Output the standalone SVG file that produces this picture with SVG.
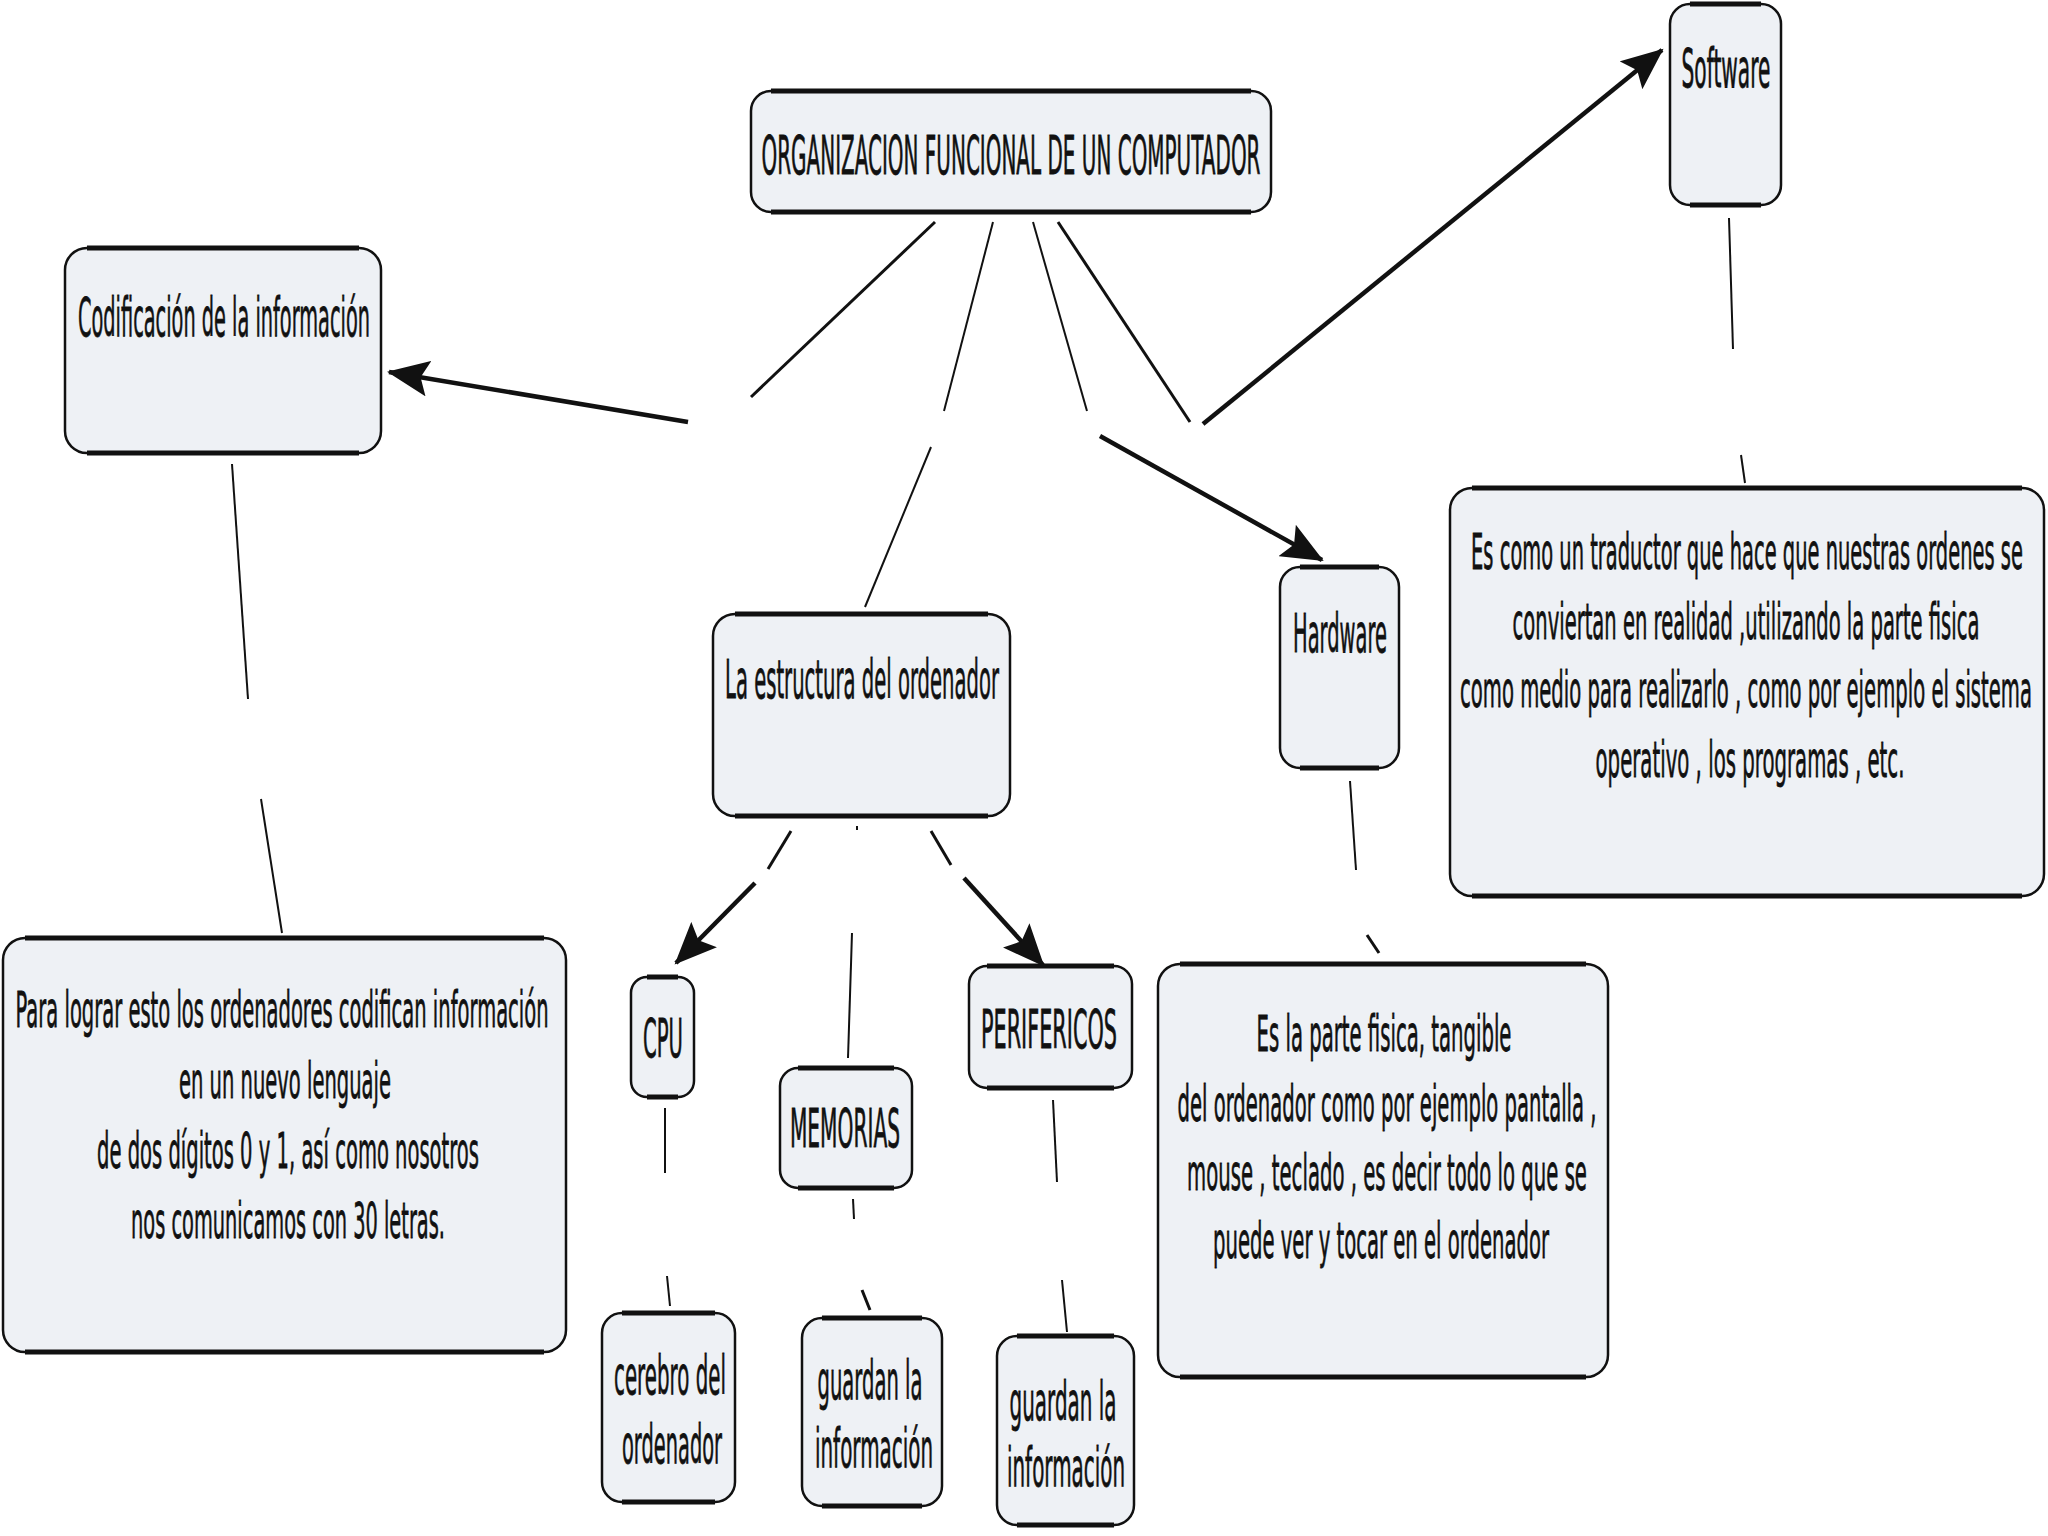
<svg xmlns="http://www.w3.org/2000/svg" width="2048" height="1536" viewBox="0 0 2048 1536">
<style>
.box{fill:#eef1f5;stroke:#111;stroke-width:2.5}
.edge{stroke:#111;stroke-width:5;fill:none}
text{font-family:"DejaVu Sans","Liberation Sans",sans-serif;fill:#111;stroke:#111;stroke-width:0.8;text-anchor:middle;font-size:54px}
.d{font-size:50px}
.thin{stroke:#111;stroke-width:2;fill:none}
.mid{stroke:#111;stroke-width:3;fill:none}
.arr{stroke:#111;stroke-width:4.5;fill:none;marker-end:url(#ah)}
</style>
<defs>
<marker id="ah" markerUnits="userSpaceOnUse" markerWidth="44" markerHeight="36" refX="40" refY="18" orient="auto">
<path d="M0,0 L42,18 L0,36 L8,18 Z" fill="#111"/>
</marker>
</defs>
<rect width="2048" height="1536" fill="#ffffff"/>
<g id="connectors">
<line class="mid" x1="935" y1="222" x2="751" y2="397"/>
<line class="arr" x1="688" y1="422" x2="389" y2="372"/>
<line class="thin" x1="993" y1="222" x2="944" y2="411"/>
<line class="thin" x1="931" y1="447" x2="865" y2="607"/>
<line class="thin" x1="1033" y1="222" x2="1087" y2="411"/>
<line class="arr" x1="1100" y1="436" x2="1322" y2="560"/>
<line class="mid" x1="1058" y1="222" x2="1190" y2="422"/>
<line class="arr" x1="1203" y1="424" x2="1662" y2="50"/>
<line class="thin" x1="1729" y1="218" x2="1733" y2="349"/>
<line class="thin" x1="1741" y1="455" x2="1745" y2="483"/>
<line class="thin" x1="232" y1="464" x2="248" y2="699"/>
<line class="thin" x1="261" y1="799" x2="282" y2="933"/>
<line class="mid" x1="791" y1="831" x2="768" y2="869"/>
<line class="arr" x1="755" y1="883" x2="676" y2="963"/>
<line class="thin" x1="857" y1="826" x2="857" y2="830"/>
<line class="thin" x1="852" y1="933" x2="848" y2="1058"/>
<line class="mid" x1="931" y1="831" x2="951" y2="865"/>
<line class="arr" x1="964" y1="878" x2="1043" y2="965"/>
<line class="thin" x1="1350" y1="781" x2="1356" y2="870"/>
<line class="mid" x1="1367" y1="935" x2="1379" y2="953"/>
<line class="thin" x1="665" y1="1108" x2="665" y2="1173"/>
<line class="thin" x1="667" y1="1276" x2="670" y2="1306"/>
<line class="thin" x1="853" y1="1199" x2="854" y2="1219"/>
<line class="mid" x1="862" y1="1290" x2="870" y2="1310"/>
<line class="thin" x1="1053" y1="1100" x2="1057" y2="1182"/>
<line class="thin" x1="1062" y1="1280" x2="1067" y2="1332"/>
</g>
<g id="root">
<rect class="box" x="751" y="91" width="520" height="121" rx="20"/>
<path class="edge" d="M771,91H1251M771,212H1251"/>
<text transform="matrix(0.36 0 0 1 1011 174)" font-size="58" textLength="1386" lengthAdjust="spacingAndGlyphs">ORGANIZACION FUNCIONAL DE UN COMPUTADOR</text>
</g>
<g id="codificacion">
<rect class="box" x="65" y="248" width="316" height="205" rx="22"/>
<path class="edge" d="M87,248H359M87,453H359"/>
<text transform="matrix(0.36 0 0 1 224 336)" textLength="811" lengthAdjust="spacingAndGlyphs">Codificación de la información</text>
</g>
<g id="software">
<rect class="box" x="1670" y="4" width="111" height="201" rx="20"/>
<path class="edge" d="M1690,4H1761M1690,205H1761"/>
<text transform="matrix(0.36 0 0 1 1726 87)" textLength="247" lengthAdjust="spacingAndGlyphs">Software</text>
</g>
<g id="software-desc">
<rect class="box" x="1450" y="488" width="594" height="408" rx="22"/>
<path class="edge" d="M1472,488H2022M1472,896H2022"/>
<text class="d" transform="matrix(0.36 0 0 1 1747 569)" textLength="1533" lengthAdjust="spacingAndGlyphs">Es como un traductor que hace que nuestras ordenes se</text>
<text class="d" transform="matrix(0.36 0 0 1 1746 639)" textLength="1297" lengthAdjust="spacingAndGlyphs">conviertan en realidad ,utilizando la parte fisica</text>
<text class="d" transform="matrix(0.36 0 0 1 1746 707)" textLength="1589" lengthAdjust="spacingAndGlyphs">como medio para realizarlo , como por ejemplo el sistema</text>
<text class="d" transform="matrix(0.36 0 0 1 1750 777)" textLength="858" lengthAdjust="spacingAndGlyphs">operativo , los programas , etc.</text>
</g>
<g id="hardware">
<rect class="box" x="1280" y="567" width="119" height="201" rx="20"/>
<path class="edge" d="M1300,567H1379M1300,768H1379"/>
<text transform="matrix(0.36 0 0 1 1340 652)" textLength="261" lengthAdjust="spacingAndGlyphs">Hardware</text>
</g>
<g id="hardware-desc">
<rect class="box" x="1158" y="964" width="450" height="413" rx="22"/>
<path class="edge" d="M1180,964H1586M1180,1377H1586"/>
<text class="d" transform="matrix(0.36 0 0 1 1384 1051)" textLength="708" lengthAdjust="spacingAndGlyphs">Es la parte fisica, tangible</text>
<text class="d" transform="matrix(0.36 0 0 1 1387 1121)" textLength="1164" lengthAdjust="spacingAndGlyphs">del ordenador como por ejemplo pantalla ,</text>
<text class="d" transform="matrix(0.36 0 0 1 1387 1190)" textLength="1111" lengthAdjust="spacingAndGlyphs">mouse , teclado , es decir todo lo que se</text>
<text class="d" transform="matrix(0.36 0 0 1 1381 1258)" textLength="933" lengthAdjust="spacingAndGlyphs">puede ver y tocar en el ordenador</text>
</g>
<g id="estructura">
<rect class="box" x="713" y="614" width="297" height="202" rx="22"/>
<path class="edge" d="M735,614H988M735,816H988"/>
<text transform="matrix(0.36 0 0 1 862 698)" textLength="761" lengthAdjust="spacingAndGlyphs">La estructura del ordenador</text>
</g>
<g id="cpu">
<rect class="box" x="631" y="977" width="63" height="120" rx="16"/>
<path class="edge" d="M647,977H678M647,1097H678"/>
<text transform="matrix(0.36 0 0 1 663 1057)" textLength="111" lengthAdjust="spacingAndGlyphs">CPU</text>
</g>
<g id="memorias">
<rect class="box" x="780" y="1068" width="132" height="120" rx="18"/>
<path class="edge" d="M798,1068H894M798,1188H894"/>
<text transform="matrix(0.36 0 0 1 845 1147)" textLength="306" lengthAdjust="spacingAndGlyphs">MEMORIAS</text>
</g>
<g id="perifericos">
<rect class="box" x="969" y="966" width="163" height="122" rx="18"/>
<path class="edge" d="M987,966H1114M987,1088H1114"/>
<text transform="matrix(0.36 0 0 1 1049 1048)" textLength="378" lengthAdjust="spacingAndGlyphs">PERIFERICOS</text>
</g>
<g id="cerebro">
<rect class="box" x="602" y="1313" width="133" height="189" rx="20"/>
<path class="edge" d="M622,1313H715M622,1502H715"/>
<text transform="matrix(0.36 0 0 1 670 1394)" textLength="311" lengthAdjust="spacingAndGlyphs">cerebro del</text>
<text transform="matrix(0.36 0 0 1 672 1463)" textLength="278" lengthAdjust="spacingAndGlyphs">ordenador</text>
</g>
<g id="guardan-memorias">
<rect class="box" x="802" y="1318" width="140" height="188" rx="20"/>
<path class="edge" d="M822,1318H922M822,1506H922"/>
<text transform="matrix(0.36 0 0 1 870 1399)" textLength="292" lengthAdjust="spacingAndGlyphs">guardan la</text>
<text transform="matrix(0.36 0 0 1 874 1467)" textLength="328" lengthAdjust="spacingAndGlyphs">información</text>
</g>
<g id="guardan-perifericos">
<rect class="box" x="997" y="1336" width="137" height="189" rx="20"/>
<path class="edge" d="M1017,1336H1114M1017,1525H1114"/>
<text transform="matrix(0.36 0 0 1 1063 1420)" textLength="297" lengthAdjust="spacingAndGlyphs">guardan la</text>
<text transform="matrix(0.36 0 0 1 1066 1486)" textLength="328" lengthAdjust="spacingAndGlyphs">información</text>
</g>
<g id="codificacion-desc">
<rect class="box" x="3" y="938" width="563" height="414" rx="22"/>
<path class="edge" d="M25,938H544M25,1352H544"/>
<text class="d" transform="matrix(0.36 0 0 1 282 1027)" textLength="1481" lengthAdjust="spacingAndGlyphs">Para lograr esto los ordenadores codifican información</text>
<text class="d" transform="matrix(0.36 0 0 1 285 1098)" textLength="589" lengthAdjust="spacingAndGlyphs">en un nuevo lenguaje</text>
<text class="d" transform="matrix(0.36 0 0 1 288 1168)" textLength="1061" lengthAdjust="spacingAndGlyphs">de dos dígitos 0 y 1, así como nosotros</text>
<text class="d" transform="matrix(0.36 0 0 1 288 1238)" textLength="872" lengthAdjust="spacingAndGlyphs">nos comunicamos con 30 letras.</text>
</g>
</svg>
